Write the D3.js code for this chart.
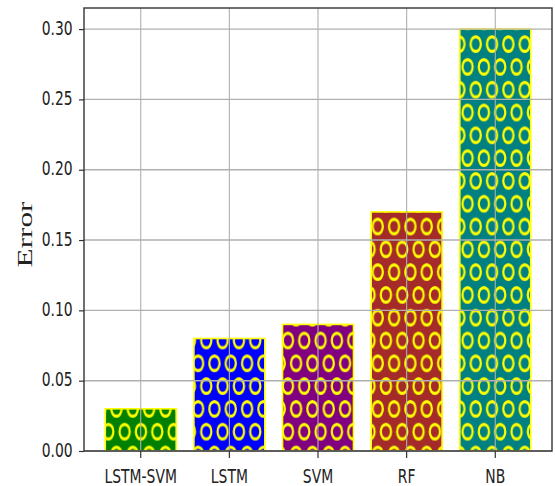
<!DOCTYPE html>
<html>
<head>
<meta charset="utf-8">
<script src="https://cdn.jsdelivr.net/npm/d3@7"></script>
<style>
  html, body { margin: 0; padding: 0; background: #fff; }
  svg { display: block; }
</style>
</head>
<body>
<div id="chart"></div>
<script>
// Classification error of each model
const categories = ["LSTM-SVM", "LSTM", "SVM", "RF", "NB"];
const errors = [0.03, 0.08, 0.09, 0.17, 0.30];
const barColors = ["#008000", "#0000ff", "#800080", "#a52a2a", "#008080"];
const yTicks = [0.00, 0.05, 0.10, 0.15, 0.20, 0.25, 0.30];
const yLabel = "Error";

const W = 555, H = 486;
const plot = { left: 84, right: 552, top: 8, bottom: 451 };
const stretch = 1.45;          // text and rings are drawn tall and narrow
const ink = "#333";

const svg = d3.select("#chart").append("svg")
  .attr("width", W).attr("height", H);

const x = d3.scaleBand()
  .domain(categories)
  .range([plot.left, plot.right])
  .paddingInner(0.2)
  .paddingOuter(0.24);

const y = d3.scaleLinear()
  .domain([0, 0.315])
  .range([plot.bottom, plot.top]);

// Ring hatch pattern (yellow rings on staggered rows)
const defs = svg.append("defs");
const pw = 16.33, ph = 45.6;
const pat = defs.append("pattern")
  .attr("id", "rings")
  .attr("patternUnits", "userSpaceOnUse")
  .attr("x", 108.3).attr("y", 431.7)
  .attr("width", pw).attr("height", ph);
const ringGroup = pat.append("g").attr("transform", `scale(1,${stretch})`);
[[0, 0], [pw, 0], [0, ph], [pw, ph], [pw / 2, ph / 2]].forEach(([cx, cy]) => {
  ringGroup.append("circle")
    .attr("cx", cx).attr("cy", cy / stretch)
    .attr("r", 5.1)
    .attr("fill", "none")
    .attr("stroke", "#ffff00")
    .attr("stroke-width", 2.2);
});

defs.append("clipPath").attr("id", "plotclip")
  .append("rect")
  .attr("x", plot.left).attr("y", plot.top)
  .attr("width", plot.right - plot.left).attr("height", plot.bottom - plot.top);

const data = categories.map((c, i) => ({ c, v: errors[i], color: barColors[i] }));

const bars = svg.append("g").attr("clip-path", "url(#plotclip)");
bars.selectAll("rect.fill").data(data).join("rect")
  .attr("class", "fill")
  .attr("x", d => x(d.c)).attr("width", x.bandwidth())
  .attr("y", d => y(d.v)).attr("height", d => y(0) - y(d.v))
  .attr("fill", d => d.color);
bars.selectAll("rect.hatch").data(data).join("rect")
  .attr("class", "hatch")
  .attr("x", d => x(d.c)).attr("width", x.bandwidth())
  .attr("y", d => y(d.v)).attr("height", d => y(0) - y(d.v))
  .attr("fill", "url(#rings)")
  .attr("stroke", "#ffff00")
  .attr("stroke-width", 1.6);

// Grid lines over the bars
const grid = svg.append("g");
grid.selectAll("line.h").data(yTicks).join("line")
  .attr("x1", plot.left).attr("x2", plot.right)
  .attr("y1", d => y(d)).attr("y2", d => y(d))
  .attr("stroke", "#b0b0b0").attr("stroke-width", 1.4);
grid.selectAll("line.v").data(categories).join("line")
  .attr("y1", plot.top).attr("y2", plot.bottom)
  .attr("x1", d => x(d) + x.bandwidth() / 2).attr("x2", d => x(d) + x.bandwidth() / 2)
  .attr("stroke", "#b0b0b0").attr("stroke-width", 1.1);

// Axes
const yAxis = svg.append("g")
  .attr("transform", `translate(${plot.left},0)`)
  .call(d3.axisLeft(y).tickValues(yTicks).tickFormat(d3.format(".2f")).tickSize(5).tickPadding(6));
yAxis.select(".domain").remove();
yAxis.selectAll(".tick line").attr("stroke", ink).attr("stroke-width", 1.2);
yAxis.selectAll(".tick text")
  .attr("dy", null).attr("y", null)
  .attr("x", null)
  .attr("transform", `translate(-11.4,0) scale(1,${stretch}) translate(0,3.6)`)
  .attr("text-anchor", "end")
  .attr("font-family", "DejaVu Sans")
  .attr("font-size", 13.9)
  .attr("fill", "#222");

const xAxis = svg.append("g")
  .attr("transform", `translate(0,${plot.bottom})`)
  .call(d3.axisBottom(x).tickSize(7).tickPadding(4));
xAxis.select(".domain").remove();
xAxis.selectAll(".tick line").attr("stroke", ink).attr("stroke-width", 1.2);
xAxis.selectAll(".tick text")
  .attr("dy", null).attr("y", null)
  .attr("transform", `translate(0,31.7) scale(1,${stretch})`)
  .attr("text-anchor", "middle")
  .attr("font-family", "DejaVu Sans")
  .attr("font-size", 13.9)
  .attr("fill", "#222");

// Frame
svg.append("rect")
  .attr("x", plot.left).attr("y", plot.top)
  .attr("width", plot.right - plot.left).attr("height", plot.bottom - plot.top)
  .attr("fill", "none")
  .attr("stroke", ink).attr("stroke-width", 1.4);

// Y-axis title
svg.append("text")
  .attr("transform", `translate(31.5,${(plot.top + plot.bottom) / 2 + 5}) rotate(-90) scale(1.42,1)`)
  .attr("text-anchor", "middle")
  .attr("font-family", "Liberation Serif, Times New Roman, serif")
  .attr("font-size", 22)
  .attr("fill", "#222")
  .text(yLabel);
</script>
</body>
</html>
